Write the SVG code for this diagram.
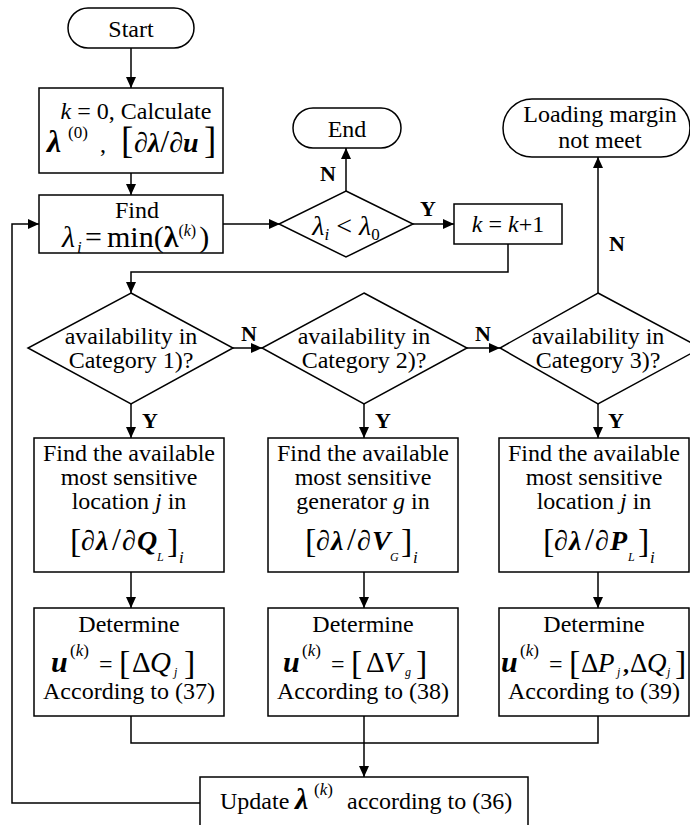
<svg xmlns="http://www.w3.org/2000/svg" width="690" height="825" viewBox="0 0 690 825" font-family="'Liberation Serif', serif" font-size="24">
<defs>
<marker id="ah" markerUnits="userSpaceOnUse" markerWidth="11" markerHeight="10" refX="11" refY="5" orient="auto">
<path d="M0,0 L11,5 L0,10 z" fill="#000"/>
</marker>
<style>
.s{fill:#fff;stroke:#000;stroke-width:1.5}
.c{fill:none;stroke:#000;stroke-width:1.5}
.a{marker-end:url(#ah)}
text{fill:#000}
.m{text-anchor:middle}
.lb{font-weight:bold;font-size:22px;text-anchor:middle}
.i{font-style:italic}
.b{font-weight:bold}
.bi{font-weight:bold;font-style:italic}
</style>
</defs>
<rect width="690" height="825" fill="#fff"/>

<g id="connectors">
<path class="c a" d="M131,48 V88"/>
<path class="c a" d="M131,173 V195"/>
<path class="c a" d="M223,224 H280"/>
<path class="c a" d="M346,191 V148"/>
<path class="c a" d="M413,224 H454"/>
<path class="c a" d="M508,244 V272 H131 V293"/>
<path class="c a" d="M233,348 H262"/>
<path class="c a" d="M467,348 H500"/>
<path class="c a" d="M598,293 V157"/>
<path class="c a" d="M131,404 V438"/>
<path class="c a" d="M364,404 V438"/>
<path class="c a" d="M598,404 V438"/>
<path class="c a" d="M131,572 V608"/>
<path class="c a" d="M364,572 V608"/>
<path class="c a" d="M598,572 V608"/>
<path class="c" d="M131,716 V743 H598 V716"/>
<path class="c a" d="M364,716 V777"/>
<path class="c a" d="M200,803 H12 V224 H39"/>
<text class="lb" x="328" y="181">N</text>
<text class="lb" x="428" y="216">Y</text>
<text class="lb" x="249" y="341">N</text>
<text class="lb" x="483" y="341">N</text>
<text class="lb" x="617" y="251">N</text>
<text class="lb" x="150" y="428">Y</text>
<text class="lb" x="383" y="428">Y</text>
<text class="lb" x="616" y="428">Y</text>
</g>

<g id="start">
<rect class="s" x="68" y="8" width="126" height="40" rx="20"/>
<text class="m" x="131" y="37">Start</text>
</g>

<g id="init">
<rect class="s" x="39" y="88" width="184" height="85"/>
<text class="m" x="136" y="119"><tspan class="i">k</tspan> = 0, Calculate</text>
<text y="152"><tspan x="47" class="bi" font-size="32">λ</tspan><tspan x="68" y="138" font-size="17">(0)</tspan><tspan x="100" y="152">,</tspan><tspan x="121" y="153" font-size="37">[</tspan><tspan x="134" y="152" class="i" font-size="28">∂</tspan><tspan class="bi" font-size="28">λ</tspan><tspan font-size="32">/</tspan><tspan class="i" font-size="28">∂</tspan><tspan class="bi" font-size="28">u</tspan><tspan x="204" y="153" font-size="37">]</tspan></text>
</g>

<g id="find">
<rect class="s" x="39" y="195" width="184" height="58"/>
<text class="m" x="137" y="218">Find</text>
<text y="247" font-size="30"><tspan x="62" class="i">λ</tspan><tspan x="77" y="253" class="i" font-size="17">i</tspan><tspan x="85" y="247">=</tspan><tspan x="107" y="247">min(</tspan><tspan class="b">λ</tspan><tspan y="236" font-size="16">(<tspan class="i">k</tspan>)</tspan><tspan y="247" dx="3">)</tspan></text>
</g>

<g id="check">
<polygon class="s" points="346,191 413,224 346,257 279,224"/>
<text class="m" x="346" y="235" font-size="28"><tspan class="i">λ</tspan><tspan class="i" font-size="17" dy="5">i</tspan><tspan dy="-5"> &lt; </tspan><tspan class="i">λ</tspan><tspan font-size="17" dy="5">0</tspan></text>
</g>

<g id="end">
<rect class="s" x="293" y="108" width="108" height="40" rx="20"/>
<text class="m" x="347" y="137">End</text>
</g>

<g id="inc">
<rect class="s" x="454" y="204" width="108" height="40"/>
<text class="m" x="508" y="232"><tspan class="i">k</tspan> = <tspan class="i">k</tspan>+1</text>
</g>

<g id="fail">
<rect class="s" x="503" y="99" width="187" height="58" rx="29"/>
<text class="m" x="600" y="122">Loading margin</text>
<text class="m" x="600" y="148">not meet</text>
</g>

<g id="cat1">
<polygon class="s" points="131,293 233,348 131,404 28,348"/>
<text class="m" x="131" y="344">availability in</text>
<text class="m" x="131" y="368">Category 1)?</text>
</g>
<g id="cat2">
<polygon class="s" points="364,293 467,348 364,404 262,348"/>
<text class="m" x="364" y="344">availability in</text>
<text class="m" x="364" y="368">Category 2)?</text>
</g>
<g id="cat3">
<polygon class="s" points="598,293 701,348 598,404 500,348"/>
<text class="m" x="598" y="344">availability in</text>
<text class="m" x="598" y="368">Category 3)?</text>
</g>

<g id="sens1">
<rect class="s" x="34" y="438" width="190" height="134"/>
<text class="m" x="129" y="461">Find the available</text>
<text class="m" x="129" y="485">most sensitive</text>
<text class="m" x="129" y="509">location <tspan class="i">j</tspan> in</text>
<text y="550"><tspan x="70" y="552" font-size="34">[</tspan><tspan x="81" y="550" class="i" font-size="28">∂</tspan><tspan x="96" class="bi" font-size="28">λ</tspan><tspan x="112" font-size="32">/</tspan><tspan x="122" class="i" font-size="28">∂</tspan><tspan x="137" class="bi" font-size="28">Q</tspan><tspan x="157" y="561" class="i" font-size="12">L</tspan><tspan x="167" y="552" font-size="34">]</tspan><tspan x="179" y="563" class="i" font-size="17">i</tspan></text>
</g>
<g id="sens2">
<rect class="s" x="268" y="438" width="190" height="134"/>
<text class="m" x="363" y="461">Find the available</text>
<text class="m" x="363" y="485">most sensitive</text>
<text class="m" x="363" y="509">generator <tspan class="i">g</tspan> in</text>
<text y="550"><tspan x="305" y="552" font-size="34">[</tspan><tspan x="316" y="550" class="i" font-size="28">∂</tspan><tspan x="331" class="bi" font-size="28">λ</tspan><tspan x="347" font-size="32">/</tspan><tspan x="357" class="i" font-size="28">∂</tspan><tspan x="372" class="bi" font-size="28">V</tspan><tspan x="390" y="561" class="i" font-size="12">G</tspan><tspan x="401" y="552" font-size="34">]</tspan><tspan x="413" y="563" class="i" font-size="17">i</tspan></text>
</g>
<g id="sens3">
<rect class="s" x="499" y="438" width="190" height="134"/>
<text class="m" x="594" y="461">Find the available</text>
<text class="m" x="594" y="485">most sensitive</text>
<text class="m" x="594" y="509">location <tspan class="i">j</tspan> in</text>
<text y="550"><tspan x="543" y="552" font-size="34">[</tspan><tspan x="554" y="550" class="i" font-size="28">∂</tspan><tspan x="569" class="bi" font-size="28">λ</tspan><tspan x="585" font-size="32">/</tspan><tspan x="595" class="i" font-size="28">∂</tspan><tspan x="610" class="bi" font-size="28">P</tspan><tspan x="628" y="561" class="i" font-size="12">L</tspan><tspan x="638" y="552" font-size="34">]</tspan><tspan x="650" y="563" class="i" font-size="17">i</tspan></text>
</g>

<g id="det1">
<rect class="s" x="34" y="608" width="190" height="108"/>
<text class="m" x="129" y="632">Determine</text>
<text y="672"><tspan x="51" class="bi" font-size="30">u</tspan><tspan x="70" y="656" font-size="17">(<tspan class="i">k</tspan>)</tspan><tspan x="99" y="672">=</tspan><tspan x="119" y="674" font-size="34">[</tspan><tspan x="132" y="672" font-size="29">Δ</tspan><tspan x="150" class="i" font-size="29">Q</tspan><tspan x="174" y="676" class="i" font-size="12">j</tspan><tspan x="184" y="674" font-size="34">]</tspan></text>
<text class="m" x="129" y="699">According to (37)</text>
</g>
<g id="det2">
<rect class="s" x="268" y="608" width="190" height="108"/>
<text class="m" x="363" y="632">Determine</text>
<text y="672"><tspan x="283" class="bi" font-size="30">u</tspan><tspan x="302" y="656" font-size="17">(<tspan class="i">k</tspan>)</tspan><tspan x="331" y="672">=</tspan><tspan x="351" y="674" font-size="34">[</tspan><tspan x="366" y="672" font-size="29">Δ</tspan><tspan x="384" class="i" font-size="29">V</tspan><tspan x="405" y="676" class="i" font-size="12">g</tspan><tspan x="416" y="674" font-size="34">]</tspan></text>
<text class="m" x="363" y="699">According to (38)</text>
</g>
<g id="det3">
<rect class="s" x="499" y="608" width="190" height="108"/>
<text class="m" x="594" y="632">Determine</text>
<text y="672"><tspan x="501" class="bi" font-size="30">u</tspan><tspan x="520" y="656" font-size="17">(<tspan class="i">k</tspan>)</tspan><tspan x="549" y="672">=</tspan><tspan x="569" y="674" font-size="34">[</tspan><tspan x="581" y="672" font-size="27">Δ</tspan><tspan x="598" class="i" font-size="27">P</tspan><tspan x="617" y="676" class="i" font-size="12">j</tspan><tspan x="623" y="672" class="b" font-size="24">,</tspan><tspan x="630" font-size="27">Δ</tspan><tspan x="647" class="i" font-size="27">Q</tspan><tspan x="667" y="676" class="i" font-size="12">j</tspan><tspan x="675" y="674" font-size="34">]</tspan></text>
<text class="m" x="594" y="699">According to (39)</text>
</g>

<g id="update">
<rect class="s" x="200" y="777" width="328" height="60"/>
<text y="809"><tspan x="220">Update</tspan><tspan x="295" class="bi" font-size="30">λ</tspan><tspan x="314" y="795" font-size="17">(<tspan class="i">k</tspan>)</tspan><tspan x="347" y="809">according to (36)</tspan></text>
</g>
</svg>
